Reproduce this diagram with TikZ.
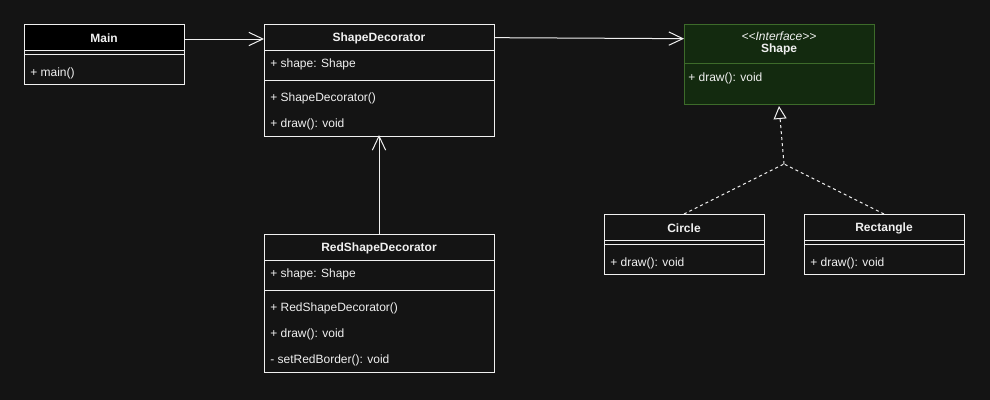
\documentclass[tikz,border=0pt]{standalone}
\usepackage{fontspec}
\setmainfont{Liberation Sans}
\usetikzlibrary{arrows.meta,calc}
\definecolor{bg}{HTML}{141414}
\definecolor{fg}{HTML}{F0F0F0}
\definecolor{ifill}{HTML}{132A0F}
\definecolor{iline}{HTML}{3D6B2A}
\begin{document}
\begin{tikzpicture}[x=0.75pt,y=-0.75pt,
  font=\fontsize{9}{11}\selectfont,
  every node/.style={text=fg},
  part/.style={draw=fg, line width=0.75pt, anchor=north west, inner sep=0pt, outer sep=0pt},
  ttl/.style={inner sep=0pt, yshift=-1pt, font=\fontsize{9}{11}\selectfont\bfseries},
  lbl/.style={anchor=west, inner sep=0pt, yshift=-1.1pt},
  sepline/.style={draw=fg, line width=0.75pt},
  openarrow/.style={draw=fg, line width=0.75pt, -{Straight Barb[length=10.5pt,width=10pt]}},
  realize/.style={draw=fg, line width=0.75pt, dash pattern=on 2.25pt off 2.25pt},
  realtip/.style={-{Triangle[open,length=9.75pt,width=9.75pt,fill=bg]}}
]
\fill[bg] (0,0) rectangle (990,400);
\useasboundingbox (0,0) rectangle (990,400);

% ---------- Main ----------
\node[part, fill=black, minimum width=120pt, minimum height=19.5pt] (mainh) at (24,24) {};
\node[ttl] (maint) at (mainh.center) {Main};
\node[part, minimum width=120pt, minimum height=25.5pt] (mainb) at (24,50) {};
\draw[sepline] (24,54) -- (184,54);
\node[lbl] (mainm) at (30,71.5) {+ main()};

% ---------- ShapeDecorator ----------
\node[part, minimum width=172.5pt, minimum height=19.5pt] (sdh) at (264,24) {};
\node[ttl] (sdtt) at (sdh.center) {ShapeDecorator};
\node[part, minimum width=172.5pt, minimum height=22.5pt] (sda) at (264,50) {};
\node[part, minimum width=172.5pt, minimum height=42pt] (sdm) at (264,80) {};
\node[lbl] (sdt1) at (270,63) {+ shape: Shape};
\node[lbl] (sdt2) at (270,97) {+ ShapeDecorator()};
\node[lbl] (sdt3) at (270,123) {+ draw(): void};

% ---------- RedShapeDecorator ----------
\node[part, minimum width=172.5pt, minimum height=19.5pt] (rsdh) at (264,234) {};
\node[ttl] (rsdtt) at (rsdh.center) {RedShapeDecorator};
\node[part, minimum width=172.5pt, minimum height=22.5pt] (rsda) at (264,260) {};
\node[part, minimum width=172.5pt, minimum height=61.5pt] (rsdm) at (264,290) {};
\node[lbl] (rt1) at (270,273) {+ shape: Shape};
\node[lbl] (rt2) at (270,307) {+ RedShapeDecorator()};
\node[lbl] (rt3) at (270,333) {+ draw(): void};
\node[lbl] (rt4) at (270,359) {- setRedBorder(): void};

% ---------- Shape (interface) ----------
\node[part, draw=iline, fill=ifill, minimum width=142.5pt, minimum height=29.25pt] (shapeh) at (684,24) {};
\node[part, draw=iline, fill=ifill, minimum width=142.5pt, minimum height=30.75pt] (shapeb) at (684,63) {};
\node[inner sep=0pt, yshift=-1pt] (st) at (779,35) {\itshape {<}{<}Interface{>}{>}};
\node[ttl] (sn) at (779,48.5) {Shape};
\node[lbl] (sdraw) at (688,76.5) {+ draw(): void};

% ---------- Circle ----------
\node[part, minimum width=120pt, minimum height=19.5pt] (circh) at (604,214) {};
\node[ttl] (circt) at (circh.center) {Circle};
\node[part, minimum width=120pt, minimum height=25.5pt] (circb) at (604,240) {};
\draw[sepline] (604,244) -- (764,244);
\node[lbl] (ct) at (610,261.5) {+ draw(): void};

% ---------- Rectangle ----------
\node[part, minimum width=120pt, minimum height=19.5pt] (recth) at (804,214) {};
\node[ttl] (rectt) at (recth.center) {Rectangle};
\node[part, minimum width=120pt, minimum height=25.5pt] (rectb) at (804,240) {};
\draw[sepline] (804,244) -- (964,244);
\node[lbl] (rct) at (810,261.5) {+ draw(): void};

% ---------- connectors ----------
\coordinate (m1) at ([yshift=-1.5pt]mainh.east);
\draw[openarrow] (m1) -- (m1 -| sdh.west);

\coordinate (s1) at ([yshift=-0.5pt]sdh.east);
\draw[openarrow] (s1) -- ($(s1 -| shapeh.west)+(0,1)$);

\draw[openarrow] (rsdh.north) -- ([yshift=0.75pt]sdm.south);

\coordinate (j) at (784,164);
\draw[realize] (circh.north) -- (j);
\draw[realize] (recth.north) -- (j);
\draw[realize, realtip] (j) -- ([yshift=-1.5pt]shapeb.south);
\end{tikzpicture}
\end{document}
